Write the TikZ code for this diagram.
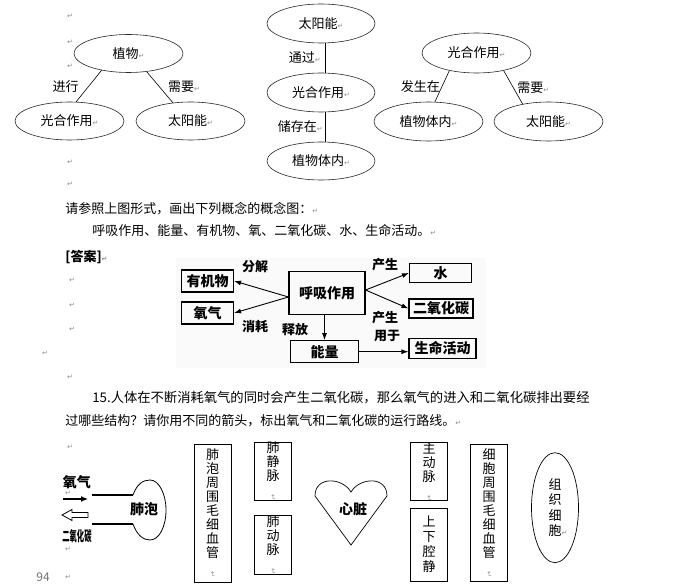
\documentclass[tikz,border=0pt]{standalone}
\usepackage{fontspec}
\setmainfont{Noto Sans CJK SC}
\newfontfamily\symf{DejaVu Sans}
\usepackage{tikz}
\usetikzlibrary{arrows.meta,positioning,shapes.geometric}
\newcommand\pmark{{\symf\fontsize{7}{7}\selectfont\color{black!45}↵}}
\newcommand\vmark{\rotatebox{-90}{\pmark}}

\begin{document}
\begin{tikzpicture}[
    x=1pt, y=-1pt,
    >=Latex,
    line width=0.6pt,
    every node/.style={font=\fontsize{13}{15}\selectfont, inner sep=0pt},
    concept/.style={
        ellipse,
        draw=black!85,
        minimum width=109pt,
        minimum height=38pt
    },
    para/.style={anchor=west},
    ansbox/.style={
        rectangle,
        draw,
        line width=1.1pt,
        font=\fontsize{14}{16}\selectfont\bfseries
    },
    anslbl/.style={font=\fontsize{13}{15}\selectfont\bfseries},
    flow/.style={-{Latex[length=7pt,width=5pt]}, line width=0.9pt},
    organ/.style={
        rectangle,
        draw,
        line width=0.8pt,
        minimum width=37pt,
        align=center,
        font=\fontsize{13}{14}\selectfont
    },
    retmark/.style={font=\fontsize{7}{7}\selectfont}
]
\useasboundingbox (0,0) rectangle (673,588);

\node[concept] (plant) at (128.5,53.5) {植物\pmark};
\node[concept] (photoL) at (69.5,121) {光合作用\pmark};
\node[concept] (sunL) at (190.5,121) {太阳能\pmark};
\draw (plant.212) -- node[pos=0.5, left=10pt] {进行} (photoL.71);
\draw (plant.315) -- node[pos=0.5, right=8pt] {需要\pmark} (sunL.134);

\node[concept, minimum width=108pt, minimum height=39pt] (sunM) at (321,23.5) {太阳能\pmark};
\node[concept, minimum width=108pt, minimum height=39pt] (photoM) at (321,92.5) {光合作用\pmark};
\node[concept, minimum width=108pt, minimum height=38pt] (bodyM) at (321,161) {植物体内\pmark};
\draw ([xshift=4pt]sunM.south) -- node[left=4pt] {通过\pmark} ([xshift=4pt]photoM.north);
\draw ([xshift=4pt]photoM.south) -- node[left=2pt] {储存在\pmark} ([xshift=4pt]bodyM.north);

\node[concept, minimum height=40pt] (photoR) at (476.5,53) {光合作用\pmark};
\node[concept, minimum height=39pt] (bodyR) at (428.5,121.5) {植物体内\pmark};
\node[concept, minimum height=39pt] (sunR) at (548.5,121.5) {太阳能\pmark};
\draw (photoR.213) -- node[left=2pt] {发生在} (bodyR.72);
\draw (photoR.327) -- node[right=4pt] {需要\pmark} (sunR.146);

\node[retmark] (m1) at (70,16) {\pmark};
\node[retmark] (m2) at (70,42) {\pmark};
\node[retmark] (m3) at (70,66) {\pmark};
\node[retmark] (m4) at (70,162) {\pmark};
\node[retmark] (m5) at (70,184) {\pmark};

\node[para] (hint) at (65,209) {请参照上图形式，画出下列概念的概念图：\pmark};
\node[para] (terms) at (92,231) {呼吸作用、能量、有机物、氧、二氧化碳、水、生命活动。\pmark};
\node[para, font=\fontsize{13}{15}\selectfont\bfseries] (answer) at (65,257) {[答案]\pmark};

\fill[black!2] (176,258) rectangle (486,368);
\node[ansbox, minimum width=52pt, minimum height=22pt] (organic) at (207.5,281) {有机物};
\node[ansbox, minimum width=52pt, minimum height=22pt] (oxygen) at (207.5,313) {氧气};
\node[ansbox, minimum width=76pt, minimum height=43pt] (resp) at (327,293) {呼吸作用};
\node[ansbox, minimum width=62pt, minimum height=19pt] (water) at (440.5,273) {水};
\node[ansbox, minimum width=64pt, minimum height=19pt] (co2) at (441,308.5) {二氧化碳};
\node[ansbox, minimum width=68pt, minimum height=22pt] (energy) at (324.5,351.7) {能量};
\node[ansbox, minimum width=67pt, minimum height=20pt] (life) at (442.5,348.5) {生命活动};

\draw[flow] ([yshift=-4pt]resp.west) -- (organic.east);
\draw[flow] ([yshift=-4pt]resp.west) -- (oxygen.east);
\draw[flow] ([yshift=3pt]resp.east) -- (water.west);
\draw[flow] ([yshift=3pt]resp.east) -- (co2.west);
\draw[flow] (resp.south -| energy.north) -- (energy.north);
\draw[flow] (energy.east) -- (energy.east -| life.west);

\node[anslbl] (l1) at (255,267) {分解};
\node[anslbl] (l2) at (255,327) {消耗};
\node[anslbl] (l3) at (295,330) {释放};
\node[anslbl] (l4) at (385,265) {产生};
\node[anslbl] (l5) at (385,318) {产生};
\node[anslbl] (l6) at (387,336) {用于};

\node[retmark] (m6) at (72,280) {\pmark};
\node[retmark] (m7) at (72,305) {\pmark};
\node[retmark] (m8) at (72,329) {\pmark};
\node[retmark] (m9) at (45,353) {\pmark};
\node[retmark] (m10) at (70,377) {\pmark};

\node[para, font=\fontsize{13.3}{15}\selectfont] (q1) at (92,398) {15.人体在不断消耗氧气的同时会产生二氧化碳，那么氧气的进入和二氧化碳排出要经};
\node[para] (q2) at (65,421) {过哪些结构？请你用不同的箭头，标出氧气和二氧化碳的运行路线。\pmark};

\node[retmark] (m11) at (70,447) {\pmark};
\node[font=\fontsize{14}{14}\selectfont\bfseries] (o2lbl) at (77,482) {氧气};
\node[retmark] (m12) at (68,493) {\pmark};
\coordinate (o2a) at (63,499);
\coordinate (o2b) at (88,499);
\draw[-{Latex[length=7pt,width=6pt]}, line width=1.2pt] (o2a) -- (o2b);
\draw[line width=0.8pt] (62,515) -- (72,509.5) -- (72,512.5) -- (88,512.5) -- (88,517.5)
    -- (72,517.5) -- (72,520.5) -- cycle;
\node (co2lbl) at (77,536) {\scalebox{0.52}[1]{\fontsize{14}{14}\selectfont\bfseries 二氧化碳}};
\node[retmark] (m13) at (68,549) {\pmark};

\draw[line width=1.3pt] (92,495) -- (133,495);
\draw[line width=1.1pt] (92,524) -- (133,524);
\draw[line width=0.8pt] (133,495) .. controls (137,484) and (143,480) .. (150,480)
    .. controls (159,480) and (166,494) .. (166,510)
    .. controls (166,527) and (159,540) .. (150,540)
    .. controls (143,540) and (137,535) .. (133,524);
\node[font=\fontsize{14}{14}\selectfont\bfseries] (alveolus) at (144,509) {肺泡};

\node[organ, minimum height=138pt] (lungcap) at (212.5,513) {肺\\泡\\周\\围\\毛\\细\\血\\管\\\vmark};
\node[organ, minimum height=55pt] (pulvein) at (273,471.5) {肺\\静\\脉\\\vmark};
\node[organ, minimum height=56pt] (pulart) at (273,545) {肺\\动\\脉\\\vmark};

\draw[line width=0.7pt] (351,492) .. controls (360,477) and (387,476) .. (387,496)
    -- (351,545) -- (315,496) .. controls (315,476) and (342,477) .. (351,492) -- cycle;
\node[font=\fontsize{14}{14}\selectfont\bfseries] (heart) at (353,509) {心脏};

\node[organ, minimum height=55pt] (aorta) at (429,471.5) {主\\动\\脉\\\vmark};
\node[organ, minimum height=73pt, font=\fontsize{13}{15}\selectfont] (vena) at (429,544.5) {上\\下\\腔\\静};
\node[organ, minimum height=137pt] (tiscap) at (489,512.5) {细\\胞\\周\\围\\毛\\细\\血\\管\\\vmark};
\node[ellipse, draw, line width=0.7pt, minimum width=47pt, minimum height=110pt, align=center,
    font=\fontsize{13}{15.5}\selectfont] (tissue) at (555,507.7) {组\\织\\细\\胞\rlap{\pmark}};

\node[font=\fontsize{12}{12}\selectfont, text=black!55] (pageno) at (43,577) {94};
\node[retmark] (m14) at (68,577) {\pmark};
\end{tikzpicture}
\end{document}
